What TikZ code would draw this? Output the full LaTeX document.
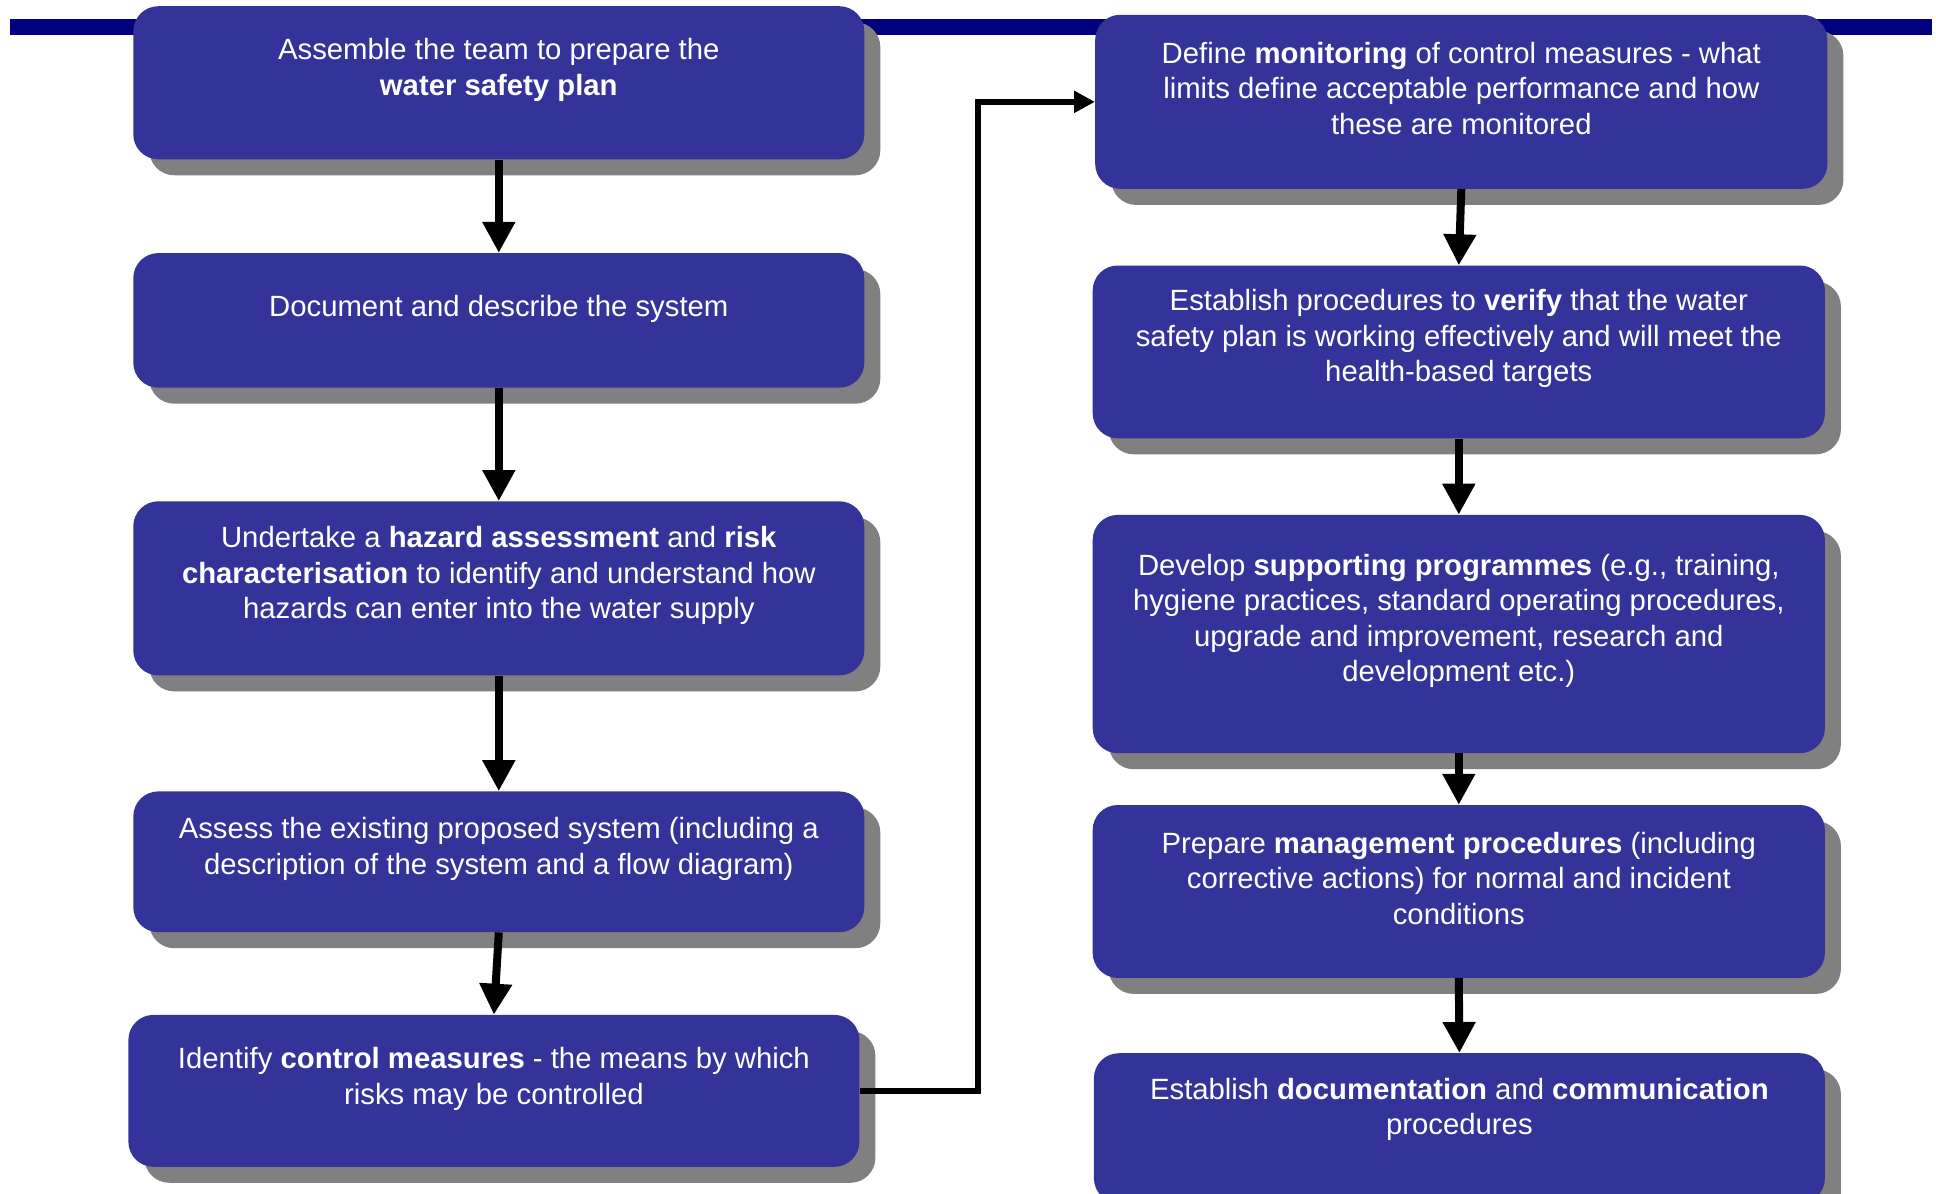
\documentclass[tikz,border=0pt]{standalone}
\usepackage{fontspec}
\setmainfont{Liberation Sans}
\usetikzlibrary{arrows.meta,shadows}
\definecolor{boxblue}{RGB}{51,51,153}
\definecolor{shadowgray}{RGB}{128,128,128}
\definecolor{barnavy}{RGB}{0,0,128}
\tikzset{
  stepbox/.style={fill=boxblue, draw=none, rounded corners=25pt, inner sep=0pt,
    general shadow={fill=shadowgray, shadow xshift=16pt, shadow yshift=-16pt}},
  steptext/.style={text=white, align=center, inner sep=0pt, yshift=-3.6pt,
    font=\fontsize{29.3}{35.5}\selectfont},
  downarrow/.style={line width=8pt, -{Triangle[length=31pt,width=31pt]}},
  linkarrow/.style={line width=6pt, -{Triangle[length=21pt,width=21pt]}}
}
\begin{document}
\begin{tikzpicture}[x=1pt,y=-1pt]
\useasboundingbox (0,0) rectangle (1936,1194);
\fill[white] (0,0) rectangle (1936,1194);
% top bar
\fill[barnavy] (10,18.5) rectangle (1932,34.6);

% left column boxes
\node[stepbox, minimum width=731pt, minimum height=153.1pt] (b1) at (498.8,82.75) {};
\node[stepbox, minimum width=731pt, minimum height=134.6pt] (b2) at (498.8,320.4) {};
\node[stepbox, minimum width=731pt, minimum height=174.1pt] (b3) at (498.8,588.35) {};
\node[stepbox, minimum width=731pt, minimum height=140.8pt] (b4) at (498.8,861.8) {};
\node[stepbox, minimum width=731pt, minimum height=151.9pt] (b5) at (493.9,1090.85) {};
% right column boxes
\node[stepbox, minimum width=732.2pt, minimum height=174.1pt] (r1) at (1461.3,101.85) {};
\node[stepbox, minimum width=732.2pt, minimum height=172.8pt] (r2) at (1458.8,351.9) {};
\node[stepbox, minimum width=732.2pt, minimum height=238.3pt] (r3) at (1458.8,634.05) {};
\node[stepbox, minimum width=732.2pt, minimum height=172.9pt] (r4) at (1458.8,891.45) {};
\node[stepbox, minimum width=731pt, minimum height=150pt] (r5) at (1459.4,1128.2) {};

% texts
\node[steptext] (t1) at (498.8,66.1) {Assemble the team to prepare the\\\textbf{water safety plan}};
\node[steptext] (t2) at (498.8,305.0) {Document and describe the system};
\node[steptext] (t3) at (498.8,572.3) {Undertake a \textbf{hazard assessment} and \textbf{risk}\\\textbf{characterisation} to identify and understand how\\hazards can enter into the water supply};
\node[steptext] (t4) at (498.8,845.2) {Assess the existing proposed system (including a\\description of the system and a flow diagram)};
\node[steptext] (t5) at (493.9,1075.4) {Identify \textbf{control measures} - the means by which\\risks may be controlled};
\node[steptext] (u1) at (1461.3,84.6) {Define \textbf{monitoring} of control measures - what\\limits define acceptable performance and how\\these are monitored};
\node[steptext] (u2) at (1458.8,335.2) {Establish procedures to \textbf{verify} that the water\\safety plan is working effectively and will meet the\\health-based targets};
\node[steptext] (u3) at (1458.8,617.4) {Develop \textbf{supporting programmes} (e.g., training,\\hygiene practices, standard operating procedures,\\upgrade and improvement, research and\\development etc.)};
\node[steptext] (u4) at (1458.8,874.8) {Prepare \textbf{management procedures} (including\\corrective actions) for normal and incident\\conditions};
\node[steptext] (u5) at (1459.4,1105.7) {Establish \textbf{documentation} and \textbf{communication}\\procedures};

% arrows
\draw[downarrow] (b1.south) -- (b2.north);
\draw[downarrow] (b2.south) -- (b3.north);
\draw[downarrow] (b3.south) -- (b4.north);
\draw[downarrow] (b4.south) -- (b5.north);
\draw[downarrow] (r1.south) -- (r2.north);
\draw[downarrow] (r2.south) -- (r3.north);
\draw[downarrow] (r3.south) -- (r4.north);
\draw[downarrow] (r4.south) -- (r5.north);

\coordinate (turn) at (977.9,500);
\draw[linkarrow] (b5.east) -- (b5.east -| turn) -- (r1.west -| turn) -- (r1.west);
\end{tikzpicture}
\end{document}
